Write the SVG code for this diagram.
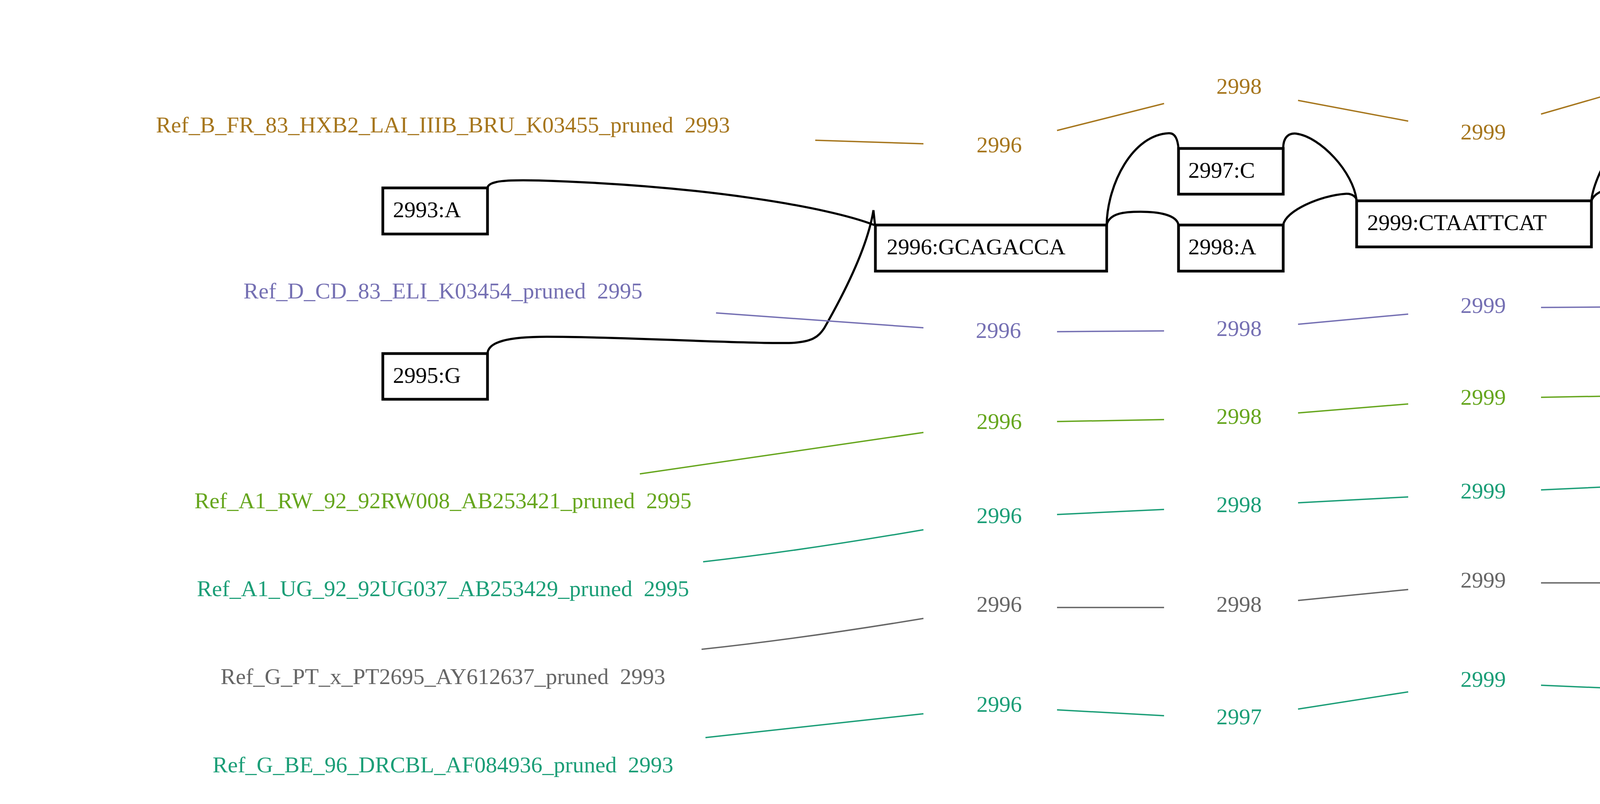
<svg xmlns="http://www.w3.org/2000/svg" width="6587" height="2058" viewBox="0 0 6587 2058">
<style>
text{font-family:"Liberation Serif","Times New Roman",serif;font-size:58px}
.nd rect{fill:#fff;stroke:#000;stroke-width:7}
.nd text{fill:#000}
.e{fill:none;stroke:#000;stroke-width:5.5}
.row text{text-anchor:middle}
.sl{fill:none;stroke-width:3.5}
.b text{fill:#a6761d}.sb{stroke:#a6761d}
.p text{fill:#7570b3}.sp{stroke:#7570b3}
.g text{fill:#66a61e}.sg{stroke:#66a61e}
.t text{fill:#1b9e77}.st{stroke:#1b9e77}
.k text{fill:#666666}.sk{stroke:#666666}
</style>
<rect width="6587" height="2058" fill="#fff"/>
<g id="connectors">
<path class="e" d="M1248,481 C1250,462 1300,460 1380,462 C1800,475 2120,530 2238,576"/>
<path class="e" d="M1248,905 C1250,875 1300,862 1400,862 C1600,862 1900,880 2020,878 C2080,876 2095,862 2110,840 C2150,770 2220,640 2236,538 L2240,576"/>
<path class="e" d="M2833,576 C2835,470 2900,345 2992,341 C3010,340 3015,360 3017,380"/>
<path class="e" d="M2833,576 C2840,545 2880,542 2920,542 C2960,542 3012,548 3017,576"/>
<path class="e" d="M3285,380 C3285,350 3300,340 3318,342 C3380,350 3465,440 3473,514"/>
<path class="e" d="M3285,576 C3290,540 3380,500 3446,496 C3462,495 3473,505 3473,514"/>
<path class="e" d="M4074,514 C4080,440 4180,280 4235,278 C4255,278 4263,295 4263,317"/>
<path class="e" d="M4074,514 C4085,485 4130,480 4165,480 C4220,480 4260,490 4263,514"/>
<path class="e" d="M4530,317 C4530,300 4545,298 4558,300 C4640,330 4740,400 4755,443"/>
<path class="e" d="M4530,514 C4545,460 4650,420 4716,420 C4740,420 4752,430 4755,443"/>
<path class="e" d="M5019,443 C5070,360 5190,260 5233,240 C5238,240 5238,244 5238,247"/>
<path class="e" d="M5019,443 C5030,410 5090,405 5131,405 C5180,405 5235,410 5238,443"/>
<path class="e" d="M5508,247 C5515,215 5570,208 5613,208 C5660,208 5720,215 5726,247"/>
<path class="e" d="M5508,443 C5540,380 5650,310 5726,247"/>
<path class="e" d="M5508,443 C5520,410 5580,404 5620,404 C5665,404 5722,410 5726,443"/>
<path class="e" d="M5993,247 C5993,220 6005,207 6021,207 C6070,215 6170,350 6181,431"/>
<path class="e" d="M5993,443 C6005,410 6060,403 6094,403 C6140,403 6179,410 6181,431"/>
<path class="sl sb" d="M2087,359L2364,368M2706,334L2980,265M3323,257L3605,310M3945,292L4226,211M4567,202L4716,236M5055,212L5204,155M5543,92L5690,92M6031,152L6203,214"/>
<path class="sl sp" d="M1833,801L2364,839M2706,849L2980,847M3323,830L3605,804M3945,787L4226,785M4567,761L4716,740M5055,715L5204,714M5543,717L5690,722M6031,718L6203,711"/>
<path class="sl sg" d="M1638,1213L2364,1107M2706,1079L2980,1074M3323,1057L3605,1034M3945,1017L4226,1012M4567,989L4716,973M5055,949L5204,943M5543,948L5690,956M6031,955L6203,944"/>
<path class="sl st" d="M1800,1438Q2050,1410 2364,1356M2706,1317L2980,1304M3323,1287L3605,1272M3945,1254L4226,1241M4567,1221L4716,1212M5055,1188L5204,1175M5543,1182L5690,1201M6031,1204L6203,1188"/>
<path class="sl sk" d="M1796,1662Q2050,1635 2364,1583M2706,1555L2980,1555M3323,1537L3605,1509M3945,1492L4226,1492M4567,1470L4716,1451M5055,1431L5204,1432M5543,1455L5690,1473M6031,1471L6203,1446"/>
<path class="sl st" d="M1806,1888L2364,1827M2706,1817L2980,1832M3323,1815L3605,1771M3945,1754L4226,1766M4567,1741L4716,1712M5055,1702L5204,1722M5543,1762L5690,1776M6031,1759L6203,1728"/>
</g>
<g id="n2993A" class="nd"><rect x="980" y="481" width="268" height="118"/><text x="1006" y="556">2993:A</text></g>
<g id="n2995G" class="nd"><rect x="980" y="905" width="268" height="117"/><text x="1006" y="980">2995:G</text></g>
<g id="n2996" class="nd"><rect x="2241" y="576" width="592" height="118"/><text x="2270" y="651">2996:GCAGACCA</text></g>
<g id="n2997C" class="nd"><rect x="3017" y="380" width="268" height="117"/><text x="3042" y="455">2997:C</text></g>
<g id="n2998A" class="nd"><rect x="3017" y="576" width="268" height="118"/><text x="3042" y="651">2998:A</text></g>
<g id="n2999" class="nd"><rect x="3473" y="514" width="601" height="118"/><text x="3500" y="589">2999:CTAATTCAT</text></g>
<g id="n3000C" class="nd"><rect x="4263" y="317" width="267" height="118"/><text x="4289" y="392">3000:C</text></g>
<g id="n3001A" class="nd"><rect x="4263" y="514" width="267" height="118"/><text x="4289" y="589">3001:A</text></g>
<g id="n3002T" class="nd"><rect x="4755" y="443" width="264" height="118"/><text x="4782" y="518">3002:T</text></g>
<g id="n3003G" class="nd"><rect x="5238" y="443" width="270" height="118"/><text x="5264" y="518">3003:G</text></g>
<g id="n3004A" class="nd"><rect x="5238" y="247" width="270" height="118"/><text x="5264" y="322">3004:A</text></g>
<g id="n3005C" class="nd"><rect x="5726" y="247" width="267" height="118"/><text x="5752" y="322">3005:C</text></g>
<g id="n3006T" class="nd"><rect x="5728" y="443" width="265" height="118"/><text x="5754" y="518">3006:T</text></g>
<g id="n3007ATTA" class="nd"><rect x="6181" y="431" width="387" height="117"/><text x="6207" y="506">3007:ATTA</text></g>
<g id="row-B" class="row b">
<text x="1134" y="339">Ref_B_FR_83_HXB2_LAI_IIIB_BRU_K03455_pruned &#160;2993</text>
<text x="2558" y="390">2996</text><text x="3172" y="240">2998</text><text x="3797" y="357">2999</text><text x="4420" y="179">3000</text><text x="4908" y="291">3002</text><text x="5394" y="107">3003</text><text x="5882" y="107">3006</text><text x="6395" y="291">3007</text>
</g>
<g id="row-D" class="row p">
<text x="1134" y="764">Ref_D_CD_83_ELI_K03454_pruned &#160;2995</text>
<text x="2556" y="865">2996</text><text x="3172" y="860">2998</text><text x="3797" y="801">2999</text><text x="4420" y="798">3001</text><text x="4908" y="731">3002</text><text x="5394" y="727">3003</text><text x="5882" y="738">3006</text><text x="6395" y="718">3007</text>
</g>
<g id="row-A1-RW" class="row g">
<text x="1134" y="1301">Ref_A1_RW_92_92RW008_AB253421_pruned &#160;2995</text>
<text x="2558" y="1098">2996</text><text x="3172" y="1085">2998</text><text x="3797" y="1036">2999</text><text x="4420" y="1024">3000</text><text x="4908" y="968">3002</text><text x="5394" y="953">3003</text><text x="5882" y="981">3005</text><text x="6395" y="949">3007</text>
</g>
<g id="row-A1-UG" class="row t">
<text x="1134" y="1526">Ref_A1_UG_92_92UG037_AB253429_pruned &#160;2995</text>
<text x="2558" y="1339">2996</text><text x="3172" y="1311">2998</text><text x="3797" y="1276">2999</text><text x="4420" y="1247">3000</text><text x="4908" y="1213">3002</text><text x="5394" y="1176">3003</text><text x="5882" y="1233">3005</text><text x="6395" y="1185">3007</text>
</g>
<g id="row-G-PT" class="row k">
<text x="1134" y="1751">Ref_G_PT_x_PT2695_AY612637_pruned &#160;2993</text>
<text x="2558" y="1566">2996</text><text x="3172" y="1566">2998</text><text x="3797" y="1504">2999</text><text x="4420" y="1505">3000</text><text x="4908" y="1442">3002</text><text x="5394" y="1447">3004</text><text x="5882" y="1510">3005</text><text x="6395" y="1434">3007</text>
</g>
<g id="row-G-BE" class="row t">
<text x="1134" y="1977">Ref_G_BE_96_DRCBL_AF084936_pruned &#160;2993</text>
<text x="2558" y="1822">2996</text><text x="3172" y="1854">2997</text><text x="3797" y="1758">2999</text><text x="4420" y="1787">3000</text><text x="4908" y="1693">3002</text><text x="5394" y="1758">3003</text><text x="5882" y="1804">3005</text><text x="6395" y="1709">3007</text>
</g>
</svg>
